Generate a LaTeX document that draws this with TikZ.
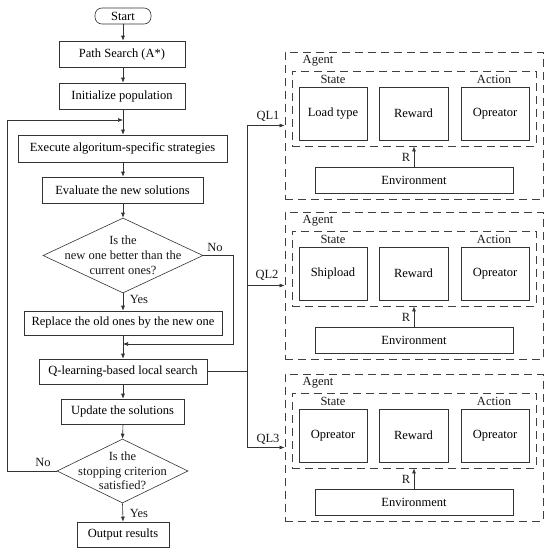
\documentclass[tikz,border=0pt]{standalone}
\usepackage{fontspec}
\setmainfont{Liberation Serif}
\usetikzlibrary{shapes.geometric,arrows.meta}
\begin{document}
\begin{tikzpicture}[x=1pt,y=-1pt,
  font=\fontsize{12.5}{15}\selectfont,
  line/.style={draw=black!80, line width=0.6pt},
  arr/.style={line, -{Latex[length=5pt,width=4pt]}},
  box/.style={draw=black!80, line width=0.6pt, inner sep=0pt, align=center},
  dbox/.style={draw=black!75, line width=0.9pt, dash pattern=on 8pt off 5pt, inner sep=0pt},
  dia/.style={draw=black!80, line width=0.6pt, diamond, inner sep=0pt},
  lbl/.style={inner sep=0pt, text=black!90},
]
\useasboundingbox (0,0) rectangle (550,555);
\coordinate (spx) at (123,0);
\coordinate (lx) at (7,0);
\coordinate (nx) at (233,0);
\coordinate (qlx) at (247,0);

% left flowchart
\node[box, rounded corners=7pt, minimum width=56pt, minimum height=16pt] (start) at (123,16) {Start};
\node[box, minimum width=126pt, minimum height=26pt] (path) at (122,54) {Path Search (A*)};
\node[box, minimum width=126pt, minimum height=26pt] (init) at (122,96) {Initialize population};
\node[box, minimum width=209pt, minimum height=27pt] (exec) at (122.5,148.5) {Execute algoritum-specific strategies};
\node[box, minimum width=161pt, minimum height=26pt] (eval) at (122.5,190) {Evaluate the new solutions};
\node[dia, minimum width=160pt, minimum height=75pt] (dia1) at (123,255.5) {};
\node[lbl, align=center] at (dia1) {Is the\\new one better than the\\current ones?};
\node[box, minimum width=198pt, minimum height=24pt] (repl) at (123,323) {Replace the old ones by the new one};
\node[box, minimum width=168pt, minimum height=25pt] (qlearn) at (123,371.5) {Q-learning-based local search};
\node[box, minimum width=123pt, minimum height=25pt] (upd) at (122.5,411.5) {Update the solutions};
\node[dia, minimum width=131pt, minimum height=64pt] (dia2) at (122.5,471) {};
\node[lbl, align=center, font=\fontsize{12.5}{14.5}\selectfont] at (dia2) {Is the\\stopping criterion\\satisfied?};
\node[box, minimum width=92pt, minimum height=25pt] (out) at (123,534.5) {Output results};

\coordinate (loopin) at (123,120);
\coordinate (noin) at (123,344);

\draw[arr] (start.south -| spx) -- (path.north -| spx);
\draw[arr] (path.south -| spx) -- (init.north -| spx);
\draw[arr] (init.south -| spx) -- (exec.north -| spx);
\draw[arr] (exec.south -| spx) -- (eval.north -| spx);
\draw[arr] (eval.south -| spx) -- (dia1.north);
\draw[arr] (dia1.south) -- (repl.north -| spx);
\draw[arr] (repl.south -| spx) -- (qlearn.north -| spx);
\draw[arr] (qlearn.south -| spx) -- (upd.north -| spx);
\draw[arr] (upd.south -| spx) -- (dia2.north);
\draw[arr] (dia2.south) -- (out.north -| spx);
\draw[arr] (dia1.east) -- (nx |- dia1.east) -- (nx |- noin) -- (noin);
\draw[arr] (dia2.west) -- (lx |- dia2.west) -- (lx |- loopin) -- (loopin);

\node[lbl] at (215,247) {No};
\node[lbl] at (139,299) {Yes};
\node[lbl] at (43,462) {No};
\node[lbl] at (139,513) {Yes};

% right agents
\foreach \k/\dy/\st in {1/0/Load type, 2/160/Shipload, 3/322/Opreator}{
  \node[dbox, minimum width=258pt, minimum height=147pt] (outer\k) at (414,125.5+\dy) {};
  \node[dbox, minimum width=244pt, minimum height=75pt] (inner\k) at (414,108.5+\dy) {};
  \node[lbl] at (318,61+\dy) {Agent};
  \node[lbl] at (333,79.5+\dy) {State};
  \node[lbl] at (494,79.5+\dy) {Action};
  \node[box, minimum width=68pt, minimum height=53pt] (s\k) at (333,113.5+\dy) {\st};
  \node[box, minimum width=69pt, minimum height=53pt] (r\k) at (413.5,113.5+\dy) {Reward};
  \node[box, minimum width=68pt, minimum height=53pt] (a\k) at (495,113.5+\dy) {Opreator};
  \node[box, minimum width=198pt, minimum height=26pt] (env\k) at (414,180+\dy) {Environment};
  \draw[arr] (env\k.north) -- (inner\k.south);
  \node[lbl] at (406,157+\dy) {R};
  \draw[arr] (qlx |- outer\k.west) -- (outer\k.west);
}
\draw[line] (qlearn.east) -- (qlx |- qlearn.east);
\draw[line] (qlx |- outer1.west) -- (qlx |- outer3.west);
\node[lbl] at (268,116) {QL1};
\node[lbl] at (267,275) {QL2};
\node[lbl] at (268,439) {QL3};
\end{tikzpicture}
\end{document}
